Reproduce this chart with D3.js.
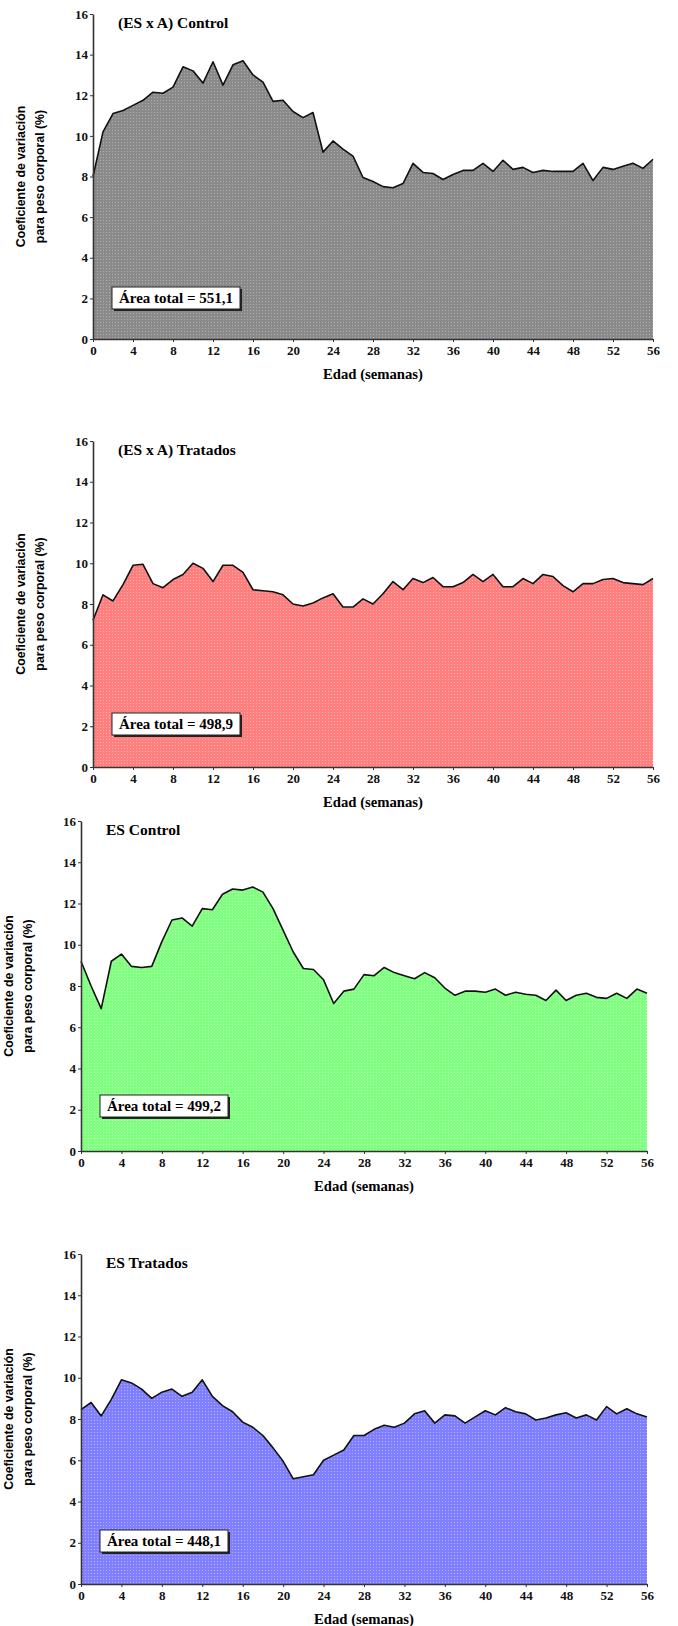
<!DOCTYPE html>
<html>
<head>
<meta charset="utf-8">
<script src="https://cdn.jsdelivr.net/npm/d3@7"></script>
<style>
  body { margin: 0; background: #fff; }
  svg { display: block; }
  .tick text { font-family: "Liberation Serif", "Times New Roman", serif; font-weight: bold; font-size: 13px; fill: #111; }
  .axis path, .axis line { stroke: #333; }
</style>
</head>
<body>
<script>
// Weeks 0..56
var weeks = d3.range(0, 57);
var xTicks = d3.range(0, 57, 4);
var yTicks = [0, 2, 4, 6, 8, 10, 12, 14, 16];

// Coefficient of variation for body weight (%)
var esxaControl = [8.0, 10.2, 11.1, 11.25, 11.5, 11.75, 12.15, 12.1, 12.4, 13.4,
  13.2, 12.6, 13.65, 12.5, 13.5, 13.7, 13.0, 12.65, 11.7, 11.75,
  11.2, 10.9, 11.15, 9.2, 9.75, 9.35, 9.0, 7.95, 7.75, 7.5,
  7.45, 7.65, 8.65, 8.2, 8.15, 7.85, 8.1, 8.3, 8.3, 8.65,
  8.25, 8.8, 8.35, 8.45, 8.2, 8.3, 8.25, 8.25, 8.25, 8.65,
  7.8, 8.45, 8.35, 8.5, 8.65, 8.4, 8.85];

var esxaTratados = [7.2, 8.45, 8.15, 8.95, 9.9, 9.95, 9.0, 8.8, 9.2, 9.45,
  10.0, 9.75, 9.1, 9.9, 9.9, 9.55, 8.7, 8.65, 8.6, 8.45,
  8.0, 7.9, 8.05, 8.3, 8.5, 7.85, 7.85, 8.25, 8.0, 8.5,
  9.1, 8.7, 9.25, 9.05, 9.3, 8.85, 8.85, 9.05, 9.45, 9.1,
  9.45, 8.85, 8.85, 9.25, 9.0, 9.45, 9.35, 8.9, 8.6, 9.0,
  9.0, 9.2, 9.25, 9.05, 9.0, 8.95, 9.25];

var esControl = [9.2, 8.0, 6.9, 9.2, 9.55, 8.95, 8.9, 8.95, 10.15, 11.2,
  11.3, 10.9, 11.75, 11.7, 12.45, 12.7, 12.65, 12.8, 12.55, 11.75,
  10.7, 9.65, 8.85, 8.8, 8.3, 7.15, 7.75, 7.85, 8.55, 8.5,
  8.9, 8.65, 8.5, 8.35, 8.65, 8.4, 7.9, 7.55, 7.75, 7.75,
  7.7, 7.85, 7.55, 7.7, 7.6, 7.55, 7.3, 7.8, 7.3, 7.55,
  7.65, 7.45, 7.4, 7.65, 7.4, 7.85, 7.65];

var esTratados = [8.45, 8.8, 8.15, 8.95, 9.9, 9.75, 9.45, 9.0, 9.3, 9.45,
  9.1, 9.3, 9.9, 9.1, 8.65, 8.35, 7.85, 7.6, 7.2, 6.6,
  5.95, 5.1, 5.2, 5.3, 6.0, 6.25, 6.5, 7.2, 7.2, 7.5,
  7.7, 7.6, 7.8, 8.25, 8.4, 7.8, 8.2, 8.15, 7.8, 8.1,
  8.4, 8.2, 8.55, 8.35, 8.25, 7.95, 8.05, 8.2, 8.3, 8.05,
  8.2, 7.95, 8.6, 8.25, 8.5, 8.25, 8.1];

var titles = ["(ES x A) Control", "(ES x A) Tratados", "ES Control", "ES Tratados"];
var areaLabels = ["Área total = 551,1", "Área total = 498,9", "Área total = 499,2", "Área total = 448,1"];

// Layout of each panel on the page (plot box in page pixels)
var panels = [
  { values: esxaControl,  fill: "#8a8a8a", dot: "#b0b0b0", x0: 93, x1: 653, yTop: 14,   yBot: 339,  labX: 21, box: [112, 287] },
  { values: esxaTratados, fill: "#ff7f7f", dot: "#ffb0b0", x0: 93, x1: 653, yTop: 441,  yBot: 767,  labX: 21, box: [112, 713] },
  { values: esControl,    fill: "#80ff80", dot: "#b8ffb8", x0: 81, x1: 647, yTop: 821,  yBot: 1151, labX: 9,  box: [100, 1095] },
  { values: esTratados,   fill: "#8080ff", dot: "#b0b0ff", x0: 81, x1: 647, yTop: 1254, yBot: 1584, labX: 9,  box: [100, 1530] }
];

var w = 678;
var h = 1626;

var svg = d3.select("body")
    .append("svg")
    .attr("width", w)
    .attr("height", h);

var defs = svg.append("defs");

panels.forEach(function(p, k) {

  // Dithered fill, like the original bitmap
  var pat = defs.append("pattern")
      .attr("id", "dither" + k)
      .attr("width", 3)
      .attr("height", 3)
      .attr("patternUnits", "userSpaceOnUse");
  pat.append("rect").attr("width", 3).attr("height", 3).attr("fill", p.fill);
  pat.append("rect").attr("x", 1).attr("y", 1).attr("width", 1).attr("height", 1).attr("fill", p.dot);

  var xScale = d3.scaleLinear().domain([0, 56]).range([p.x0, p.x1]);
  var yScale = d3.scaleLinear().domain([0, 16]).range([p.yBot, p.yTop]);

  var g = svg.append("g");

  // Area under the curve
  var area = d3.area()
      .x(function(d, i) { return xScale(weeks[i]); })
      .y0(yScale(0))
      .y1(function(d) { return yScale(d); });

  g.append("path")
      .datum(p.values)
      .attr("d", area)
      .attr("fill", "url(#dither" + k + ")");

  var line = d3.line()
      .x(function(d, i) { return xScale(weeks[i]); })
      .y(function(d) { return yScale(d); });

  g.append("path")
      .datum(p.values)
      .attr("d", line)
      .attr("fill", "none")
      .attr("stroke", "#111")
      .attr("stroke-width", 1.6)
      .attr("stroke-linejoin", "round");

  // Axes
  g.append("g")
      .attr("class", "axis")
      .attr("transform", "translate(0," + yScale(0) + ")")
      .call(d3.axisBottom(xScale).tickValues(xTicks).tickSize(3).tickSizeOuter(0).tickPadding(4));

  g.append("g")
      .attr("class", "axis")
      .attr("transform", "translate(" + xScale(0) + ",0)")
      .call(d3.axisLeft(yScale).tickValues(yTicks).tickSize(3).tickSizeOuter(0).tickPadding(2));

  g.selectAll(".axis .domain").attr("stroke-width", 1.6);

  // Panel title
  g.append("text")
      .attr("x", xScale(0) + 25)
      .attr("y", p.yTop + 14)
      .style("font-family", "Liberation Serif, Times New Roman, serif")
      .style("font-weight", "bold")
      .style("font-size", "15.5px")
      .text(titles[k]);

  // X axis label
  g.append("text")
      .attr("x", (p.x0 + p.x1) / 2)
      .attr("y", p.yBot + 40)
      .attr("text-anchor", "middle")
      .style("font-family", "Liberation Serif, Times New Roman, serif")
      .style("font-weight", "bold")
      .style("font-size", "14.7px")
      .text("Edad (semanas)");

  // Y axis label, two lines
  var yMid = (p.yTop + p.yBot) / 2;
  var ylab = g.append("text")
      .attr("transform", "translate(" + p.labX + "," + yMid + ") rotate(-90)")
      .attr("text-anchor", "middle")
      .style("font-family", "Liberation Sans, Arial, sans-serif")
      .style("font-weight", "bold")
      .style("font-size", "12.3px");
  ylab.append("tspan").attr("x", 0).attr("dy", 4).text("Coeficiente de variación");
  ylab.append("tspan").attr("x", 0).attr("dy", 19).text("para peso corporal (%)");

  // Total area box with shadow
  var bw = 128, bh = 22;
  g.append("rect")
      .attr("x", p.box[0] + 2).attr("y", p.box[1] + 2)
      .attr("width", bw).attr("height", bh)
      .attr("fill", "#222");
  g.append("rect")
      .attr("x", p.box[0]).attr("y", p.box[1])
      .attr("width", bw).attr("height", bh)
      .attr("fill", "#fff")
      .attr("stroke", "#222")
      .attr("stroke-width", 1);
  g.append("text")
      .attr("x", p.box[0] + bw / 2)
      .attr("y", p.box[1] + 16)
      .attr("text-anchor", "middle")
      .style("font-family", "Liberation Serif, Times New Roman, serif")
      .style("font-weight", "bold")
      .style("font-size", "15px")
      .text(areaLabels[k]);
});
</script>
</body>
</html>
